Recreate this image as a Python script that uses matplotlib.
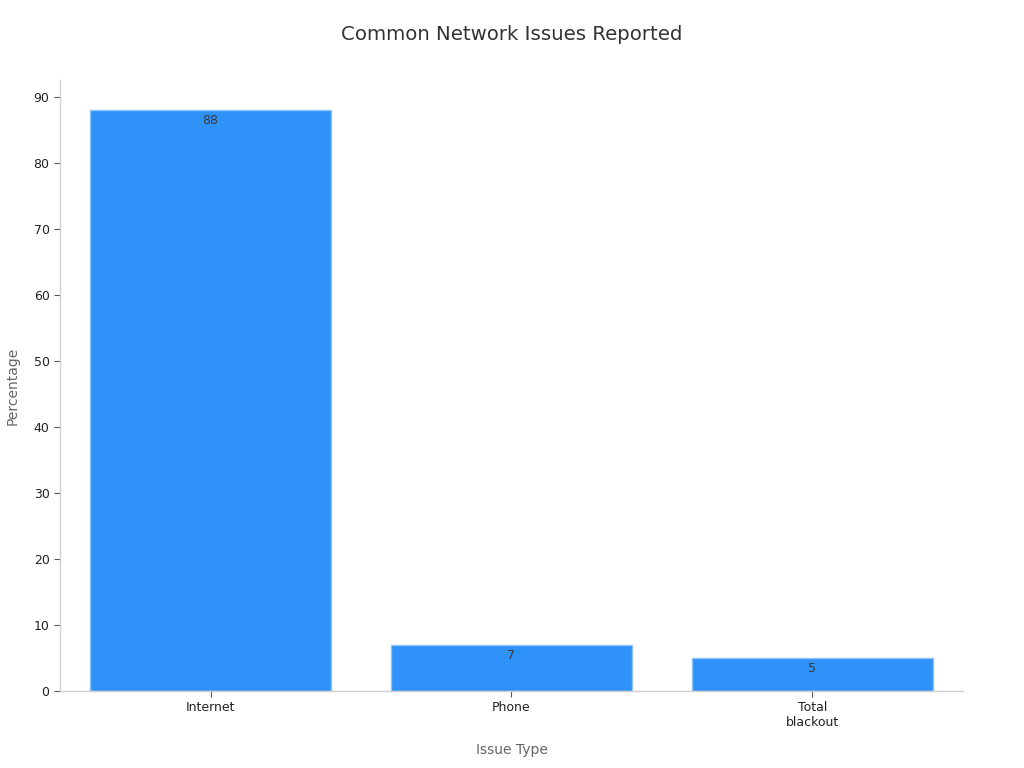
import matplotlib.pyplot as plt

issue_types = ['Internet', 'Phone', 'Total\nblackout']
percentages = [88, 7, 5]

fig = plt.figure(figsize=(10.24, 7.68), dpi=100)
ax = fig.add_axes([0.0586, 0.1003, 0.8818, 0.7957])

bars = ax.bar(range(len(issue_types)), percentages, width=0.8, color='#2f92f8',
              edgecolor='#8cc4fa', linewidth=1)
for b, v in zip(bars, percentages):
    ax.annotate(str(v), (b.get_x() + b.get_width() / 2, v), xytext=(0, -3),
                textcoords='offset points', ha='center', va='top',
                fontsize=9, color='#3a3a3a')

ax.set_xlim(-0.5, 2.5)
ax.set_ylim(0, 92.6)
ax.set_yticks(range(0, 91, 10))
ax.set_xticks(range(len(issue_types)))
ax.set_xticklabels(issue_types)
ax.tick_params(axis='both', labelsize=9, colors='#222222', length=4, width=0.8)
ax.tick_params(axis='x', color='#555555')
ax.tick_params(axis='y', color='#555555')

for s in ['top', 'right']:
    ax.spines[s].set_visible(False)
for s in ['left', 'bottom']:
    ax.spines[s].set_color('#d0d0d0')
    ax.spines[s].set_linewidth(1)

ax.set_xlabel('Issue Type', fontsize=10, color='#666666', labelpad=10)
ax.set_ylabel('Percentage', fontsize=10, color='#666666', labelpad=10)
fig.suptitle('Common Network Issues Reported', fontsize=14.2, color='#333333', y=0.968)

plt.savefig('out.png')
